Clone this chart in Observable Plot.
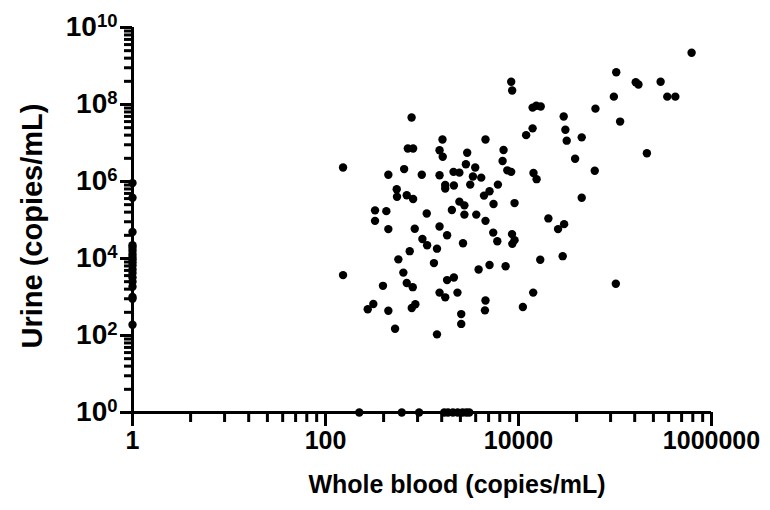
<!DOCTYPE html>
<html>
<head>
<meta charset="utf-8">
<script src="https://cdn.jsdelivr.net/npm/d3@7"></script>
<script src="https://cdn.jsdelivr.net/npm/@observablehq/plot@0.6"></script>
<style>
  html, body { margin: 0; padding: 0; background: #fff; }
</style>
</head>
<body>
<div id="chart"></div>
<script>
// Paired samples: whole blood vs urine (copies/mL)
const blood = [
  8400, 8600, 14000, 15300, 17000, 780, 14000, 12000, 1630, 4550,
  713, 809, 1520, 7000, 1640, 2940, 6840, 152, 653, 2850,
  3560, 7660, 8400, 448, 995, 1520, 2120, 2440, 3370, 4110,
  14300, 15400, 1740, 1740, 2140, 3160, 6120, 547, 5010, 551,
  695, 809, 4390, 2440, 2750, 5510, 9100, 326, 427, 1120,
  2040, 2750, 3650, 326, 4550, 448, 841, 1520, 5470, 8570,
  1010, 1820, 6030, 1130, 1430, 2660, 8630, 9100, 746, 569,
  1330, 5010, 7350, 3860, 16800, 152, 641, 1820, 2140, 695,
  802, 394, 1520, 1740, 2330, 14200, 4550, 274, 313, 448,
  783, 853, 4490, 11100, 2550, 2550, 526, 1430, 622000, 103000,
  164000, 175000, 297000, 97300, 348000, 422000, 62700, 29400, 113000, 30600,
  31600, 45200, 214000, 38600, 61700, 45200, 20400, 25700, 29700, 28700,
  102000
];
const urine = [
  3.9e8, 2.3e8, 8.3e7, 9.3e7, 8.9e7, 4.6e7, 2.4e7, 1.6e7, 1.23e7, 1.23e7,
  7.2e6, 7.2e6, 6.5e6, 6.6e6, 4.4e6, 5.6e6, 3.4e6, 2.3e6, 2.1e6, 2.8e6,
  2.3e6, 1.95e6, 1.78e6, 1.5e6, 1.5e6, 1.45e6, 1.78e6, 1.7e6, 1.35e6, 1.26e6,
  1.66e6, 1.15e6, 8.1e5, 6.6e5, 7.9e5, 8.3e5, 8.3e5, 6.3e5, 5.6e5, 4.0e5,
  4.4e5, 3.5e5, 4.3e5, 3.0e5, 2.4e5, 2.6e5, 2.75e5, 1.78e5, 1.7e5, 1.48e5,
  1.82e5, 1.38e5, 1.38e5, 9.5e4, 9.5e4, 5.8e4, 5.9e4, 6.8e4, 4.7e4, 4.3e4,
  3.2e4, 4.0e4, 2.8e4, 2.2e4, 1.8e4, 2.5e4, 2.4e4, 3.0e4, 1.55e4, 9.5e3,
  7.6e3, 6.8e3, 6.3e3, 5.2e3, 9.3e3, 3.7e3, 4.3e3, 2.75e3, 3.2e3, 2.3e3,
  1.8e3, 1.95e3, 1.3e3, 980, 1.3e3, 1.3e3, 810, 480, 660, 440,
  520, 650, 450, 550, 360, 200, 150, 107, 2.2e9, 6.9e8,
  3.8e8, 3.3e8, 3.9e8, 1.6e8, 1.6e8, 1.6e8, 7.8e7, 4.9e7, 3.6e7, 2.2e7,
  1.15e7, 1.4e7, 5.4e6, 3.9e6, 1.9e6, 3.8e5, 1.1e5, 5.8e4, 7.8e4, 1.15e4,
  2.2e3
];
// Samples negative in whole blood (plotted at 1)
const urineBloodNeg = [9.1e5, 3.8e5, 4.9e4, 2.2e4, 1.9e4, 1.6e4, 1.3e4, 1.1e4, 9.5e3, 8e3,
  6.6e3, 5.2e3, 4.2e3, 3.2e3, 2.5e3, 1.85e3, 1000, 900, 190];
// Samples negative in urine (plotted at 1)
const bloodUrineNeg = [224, 617, 933, 1700, 1860, 2090, 2340, 2630, 2880, 3090];

const xMajor = [1, 100, 10000, 1000000];
const yMajor = [1, 1e2, 1e4, 1e6, 1e8, 1e10];
const xLabels = ["1", "100", "10000", "1000000"];
const yExponents = ["0", "2", "4", "6", "8", "10"];
const minorK = [2, 3, 4, 5, 6, 7, 8, 9];
const xMinor = xMajor.slice(0, -1).flatMap(b => minorK.map(k => b * k * k));
const yMinor = yMajor.slice(0, -1).flatMap(b => minorK.map(k => b * k * k));

const points = [
  ...blood.map((b, i) => ({blood: b, urine: urine[i]})),
  ...urineBloodNeg.map(u => ({blood: 1, urine: u})),
  ...bloodUrineNeg.map(b => ({blood: b, urine: 1}))
];

const W = 770, H = 510, mL = 132, mR = 59, mT = 27, mB = 98;
const frameW = W - mL - mR, frameH = H - mT - mB;
const FONT = "'Liberation Sans', Arial, sans-serif";

const fig = Plot.plot({
  width: W,
  height: H,
  marginLeft: mL,
  marginRight: mR,
  marginTop: mT,
  marginBottom: mB,
  x: {type: "log", domain: [1, 1e6], label: null},
  y: {type: "log", domain: [1, 1e10], label: null},
  marks: [
    // axis lines
    Plot.ruleY([1], {stroke: "black", strokeWidth: 3}),
    Plot.ruleX([1], {stroke: "black", strokeWidth: 3}),
    // outward tick marks (minor then major)
    Plot.tickX(xMinor, {x: d => d, insetTop: frameH, insetBottom: -10, stroke: "black", strokeWidth: 3}),
    Plot.tickY(yMinor, {y: d => d, insetRight: frameW, insetLeft: -8, stroke: "black", strokeWidth: 3}),
    Plot.tickX(xMajor, {x: d => d, insetTop: frameH, insetBottom: -14, stroke: "black", strokeWidth: 3}),
    Plot.tickY(yMajor, {y: d => d, insetRight: frameW, insetLeft: -12, stroke: "black", strokeWidth: 3}),
    // tick labels
    Plot.axisX({ticks: xMajor, tickSize: 0, tickPadding: 19, fontSize: 25, fontWeight: "bold", fontFamily: FONT, fill: "black",
      tickFormat: d => xLabels[xMajor.indexOf(d)]}),
    Plot.axisY({ticks: yMajor, tickSize: 0, tickPadding: 15, fontSize: 28, fontWeight: "bold", fontFamily: FONT, fill: "black",
      tickFormat: d => "10^" + yExponents[yMajor.indexOf(d)]}),
    Plot.dot(points, {x: "blood", y: "urine", r: 4.2, fill: "black"}),
    Plot.text(["Whole blood (copies/mL)"], {text: d => d, frameAnchor: "bottom", textAnchor: "middle", dx: 35, dy: 80,
      fontSize: 25, fontWeight: "bold", fontFamily: FONT, fill: "black"}),
    Plot.text(["Urine (copies/mL)"], {text: d => d, frameAnchor: "left", textAnchor: "middle", dx: -100, dy: 6, rotate: -90,
      fontSize: 29, fontWeight: "bold", fontFamily: FONT, fill: "black"})
  ]
});

d3.select(fig).selectAll('g[aria-label="y-axis tick label"] text').each(function () {
  const t = this.textContent;
  if (!t || t.indexOf("^") < 0) return;
  const e = t.split("^")[1];
  const s = d3.select(this);
  s.text(null);
  s.append("tspan").text("10");
  s.append("tspan").attr("dy", "-0.5em").attr("font-size", "0.66em").text(e);
});

document.getElementById("chart").appendChild(fig);
</script>
</body>
</html>
